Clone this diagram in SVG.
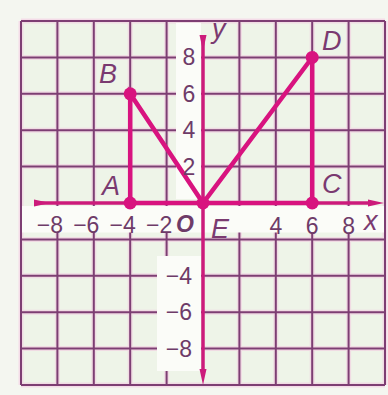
<svg xmlns="http://www.w3.org/2000/svg" width="388" height="395" viewBox="0 0 388 395">
<defs>
<style>
.glow{stroke:#f4bddf;stroke-width:5;opacity:.45;fill:none}
.grid{stroke:#7d3e73;stroke-width:2;fill:none}
.strip{fill:#fbfcf8}
.axis{stroke:#cc1b7b;stroke-width:3.5;fill:none}
.seg{stroke:#d8137f;stroke-width:4.5;fill:none;stroke-linecap:round}
.dot{fill:#d8137f}
.tick{font-family:"Liberation Sans",Arial,sans-serif;font-size:23px;fill:#6e3b68}
.lbl{font-family:"Liberation Sans",Arial,sans-serif;font-size:27px;font-style:italic;fill:#7a3a70}
</style>
<marker id="arr" viewBox="0 0 16 10" refX="2" refY="5" markerWidth="16" markerHeight="10" markerUnits="userSpaceOnUse" orient="auto">
<path d="M0,1.5 L16,5 L0,8.5 Z" fill="#cc1b7b"/>
</marker>
</defs>
<rect x="0" y="0" width="388" height="395" fill="#f4f6f0"/>
<g id="grid">
<rect x="21" y="21" width="364" height="364" fill="#eef4e8"/>
<g class="glow">
<path d="M21,21V385M57.4,21V385M93.8,21V385M130.2,21V385M166.6,21V385M239.4,21V385M275.8,21V385M312.2,21V385M348.6,21V385M385,21V385"/>
<path d="M21,21H385M21,57.4H385M21,93.8H385M21,130.2H385M21,166.6H385M21,239.4H385M21,275.8H385M21,312.2H385M21,348.6H385M21,385H385"/>
</g>
<g class="grid">
<path d="M21,21V385M57.4,21V385M93.8,21V385M130.2,21V385M166.6,21V385M239.4,21V385M275.8,21V385M312.2,21V385M348.6,21V385M385,21V385"/>
<path d="M21,21H385M21,57.4H385M21,93.8H385M21,130.2H385M21,166.6H385M21,239.4H385M21,275.8H385M21,312.2H385M21,348.6H385M21,385H385"/>
</g>
<rect class="strip" x="22" y="206" width="362" height="26.5"/>
<rect class="strip" x="176" y="23" width="25" height="176"/>
<rect class="strip" x="157" y="256" width="44" height="115"/>
</g>
<g id="connectors">
<line class="axis" x1="36" y1="203" x2="370" y2="203" marker-start="url(#arr)" marker-end="url(#arr)"/>
<line class="axis" x1="203" y1="37" x2="203" y2="371" marker-start="url(#arr)" marker-end="url(#arr)"/>
<path class="seg" d="M130.2,203H312.2M130.2,203V93.8L203,203L312.2,57.4V203"/>
</g>
<g id="A"><circle class="dot" cx="130.2" cy="203" r="6.5"/><text class="lbl" x="102" y="195">A</text></g>
<g id="B"><circle class="dot" cx="130.2" cy="93.8" r="6.5"/><text class="lbl" x="99" y="83">B</text></g>
<g id="E"><circle class="dot" cx="203" cy="203" r="6.5"/><text class="lbl" x="211" y="238">E</text></g>
<g id="D"><circle class="dot" cx="312.2" cy="57.4" r="6.5"/><text class="lbl" x="322" y="50">D</text></g>
<g id="C"><circle class="dot" cx="312.2" cy="203" r="6.5"/><text class="lbl" x="322" y="193">C</text></g>
<g id="labels">
<text class="tick" x="63" y="233" text-anchor="end">−8</text>
<text class="tick" x="99.4" y="233" text-anchor="end">−6</text>
<text class="tick" x="135.8" y="233" text-anchor="end">−4</text>
<text class="tick" x="172.2" y="233" text-anchor="end">−2</text>
<text x="176" y="232" style="font-family:'Liberation Sans',Arial,sans-serif;font-size:23px;font-style:italic;font-weight:bold;fill:#6e3b68">O</text>
<text class="tick" x="275.8" y="234" text-anchor="middle">4</text>
<text class="tick" x="312.2" y="234" text-anchor="middle">6</text>
<text class="tick" x="348.6" y="234" text-anchor="middle">8</text>
<text class="lbl" x="364" y="230">x</text>
<text class="lbl" x="212" y="38">y</text>
<text class="tick" x="189" y="65" text-anchor="middle">8</text>
<text class="tick" x="189" y="102" text-anchor="middle">6</text>
<text class="tick" x="189" y="138" text-anchor="middle">4</text>
<text class="tick" x="189" y="175" text-anchor="middle">2</text>
<text class="tick" x="192" y="284" text-anchor="end">−4</text>
<text class="tick" x="192" y="320" text-anchor="end">−6</text>
<text class="tick" x="192" y="357" text-anchor="end">−8</text>
</g>
</svg>
